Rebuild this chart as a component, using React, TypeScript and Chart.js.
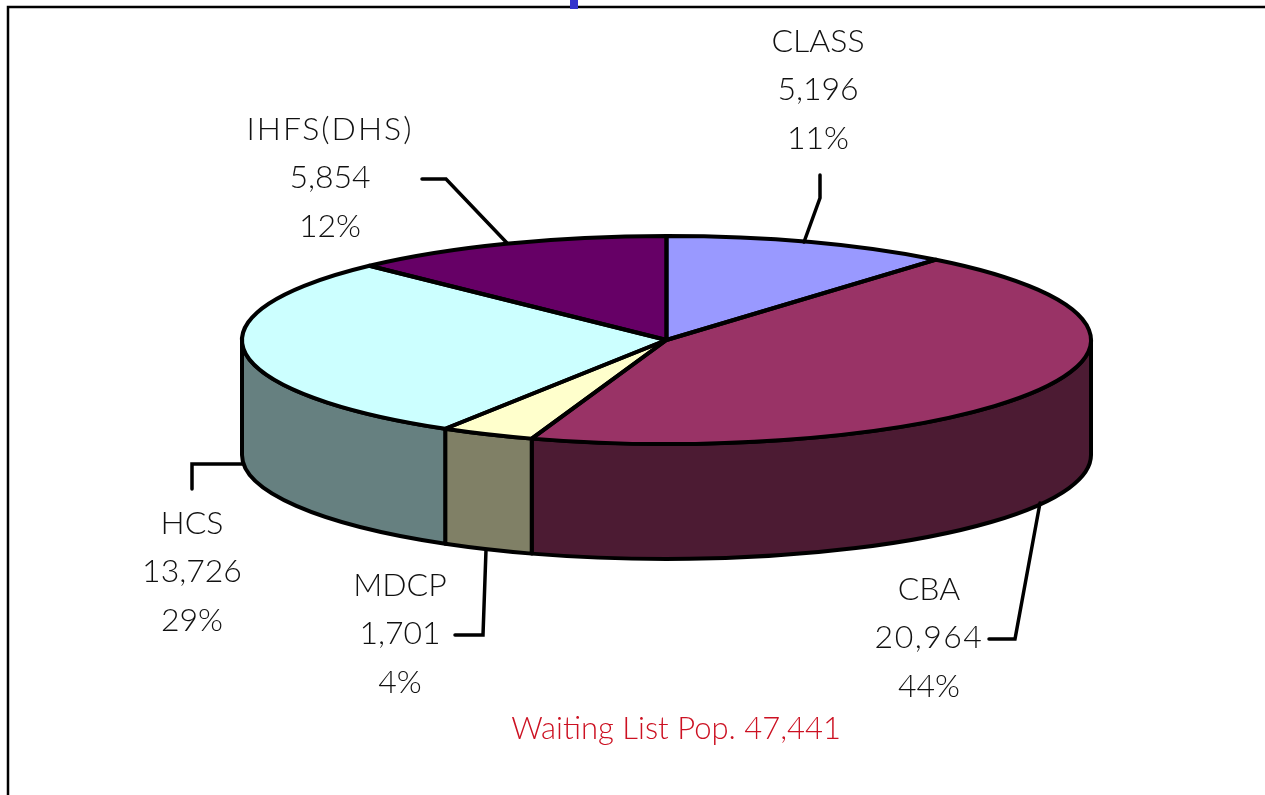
import React, { useEffect, useRef } from "react";
import { Chart, registerables } from "chart.js";

Chart.register(...registerables);

const categories = ["CLASS", "CBA", "MDCP", "HCS", "IHFS(DHS)"];
const values = [5196, 20964, 1701, 13726, 5854];
const percents = ["11%", "44%", "4%", "29%", "12%"];
const topColors = ["#9999FF", "#993366", "#FFFFCC", "#CCFFFF", "#660066"];
const sideColors = ["#4C4C80", "#4C1B33", "#808066", "#668080", "#330033"];
const note = "Waiting List Pop. 47,441";

const CX = 666.5, CY = 340, RX = 424.5, RY = 104, DEPTH = 115;
const FONT = '300 32px Lato, "Noto Sans", sans-serif';

const labelPlacement = [
  { x: 818, y: 52, nameGap: 0, valueGap: 0, leader: [[804, 242], [820, 198], [820, 175]] },
  { x: 929, y: 600, nameGap: 0, valueGap: 1.5, leader: [[1040, 503], [1015, 639], [989, 639]] },
  { x: 400, y: 596, nameGap: 0, valueGap: 0, leader: [[486, 550], [483, 635], [455, 635]] },
  { x: 192, y: 534, nameGap: 0, valueGap: 0, leader: [[243, 464], [192, 464], [192, 489]] },
  { x: 330, y: 140, nameGap: 2, valueGap: 0, leader: [[507, 243], [446, 179], [422, 179]] },
];

const pie3d = {
  id: "pie3d",
  beforeDraw(chart: any) {
    const { ctx } = chart;
    ctx.save();
    ctx.strokeStyle = "#000";
    ctx.lineWidth = 2.5;
    ctx.beginPath();
    ctx.moveTo(8, 795);
    ctx.lineTo(8, 7);
    ctx.lineTo(1265, 7);
    ctx.stroke();
    ctx.fillStyle = "#3333CC";
    ctx.fillRect(570, 0, 8, 9);
    ctx.restore();
  },
  beforeDatasetDraw(chart: any) {
    const { ctx } = chart;
    const arcs = chart.getDatasetMeta(0).data;
    // side walls
    ctx.save();
    ctx.strokeStyle = "#000";
    ctx.lineWidth = 4;
    ctx.lineJoin = "round";
    arcs.forEach((arc: any, i: number) => {
      const a = Math.max(arc.startAngle, 0);
      const b = Math.min(arc.endAngle, Math.PI);
      if (b <= a) return;
      ctx.beginPath();
      ctx.ellipse(CX, CY, RX, RY, 0, a, b);
      ctx.ellipse(CX, CY + DEPTH, RX, RY, 0, b, a, true);
      ctx.closePath();
      ctx.fillStyle = sideColors[i];
      ctx.fill();
      ctx.stroke();
    });
    ctx.restore();
    // top face: the library's arcs, squashed to an ellipse
    const first = arcs[0];
    ctx.save();
    ctx.translate(CX, CY);
    ctx.scale(RX / first.outerRadius, RY / first.outerRadius);
    ctx.translate(-first.x, -first.y);
  },
  afterDatasetDraw(chart: any) {
    const { ctx } = chart;
    ctx.restore();
    const arcs = chart.getDatasetMeta(0).data;
    ctx.save();
    ctx.strokeStyle = "#000";
    ctx.lineWidth = 4;
    ctx.lineJoin = "round";
    arcs.forEach((arc: any) => {
      ctx.beginPath();
      ctx.moveTo(CX, CY);
      ctx.ellipse(CX, CY, RX, RY, 0, arc.startAngle, arc.endAngle);
      ctx.closePath();
      ctx.stroke();
    });
    ctx.restore();
  },
  afterDraw(chart: any) {
    const { ctx } = chart;
    ctx.save();
    ctx.textAlign = "center";
    ctx.textBaseline = "alphabetic";
    ctx.font = FONT;
    categories.forEach((name, i) => {
      const p = labelPlacement[i];
      ctx.strokeStyle = "#000";
      ctx.lineWidth = 3.5;
      ctx.lineCap = "round";
      ctx.beginPath();
      p.leader.forEach(([x, y], k) => (k ? ctx.lineTo(x, y) : ctx.moveTo(x, y)));
      ctx.stroke();
      ctx.fillStyle = "#111";
      ctx.letterSpacing = `${p.nameGap}px`;
      ctx.fillText(name, p.x, p.y);
      ctx.letterSpacing = `${p.valueGap}px`;
      ctx.fillText(values[i].toLocaleString("en-US"), p.x, p.y + 48);
      ctx.letterSpacing = "0px";
      ctx.fillText(percents[i], p.x, p.y + 97);
    });
    ctx.fillStyle = "#CC1122";
    ctx.font = '300 31px Lato, "Noto Sans", sans-serif';
    ctx.fillText(note, 676, 739);
    ctx.restore();
  },
};

export default function App() {
  const ref = useRef<HTMLCanvasElement>(null);
  useEffect(() => {
    const chart = new Chart(ref.current as HTMLCanvasElement, {
      type: "pie",
      data: {
        labels: categories,
        datasets: [{ data: values, backgroundColor: topColors, borderWidth: 0 }],
      },
      options: {
        animation: false,
        responsive: false,
        plugins: { legend: { display: false }, tooltip: { enabled: false } },
      },
      plugins: [pie3d],
    });
    return () => chart.destroy();
  }, []);
  return (
    <canvas
      ref={ref}
      width={1265}
      height={795}
      style={{ position: "absolute", left: 0, top: 0, display: "block" }}
    />
  );
}
